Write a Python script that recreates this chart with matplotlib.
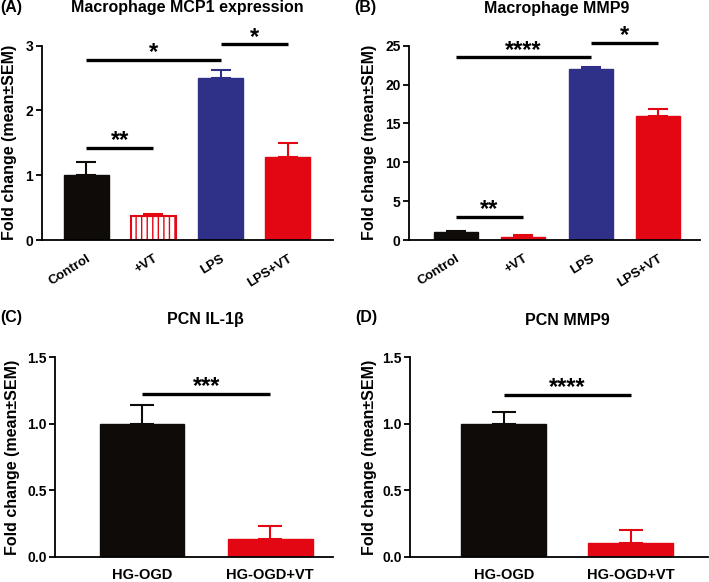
import matplotlib
matplotlib.use('Agg')
import matplotlib.pyplot as plt

plt.rcParams['font.family'] = ['Liberation Sans', 'DejaVu Sans']
plt.rcParams['font.weight'] = 'bold'
plt.rcParams['hatch.linewidth'] = 1.0

BLACK = '#0e0b08'
NAVY = '#2f3188'
RED = '#e30613'

# Données
mac_groups = ['Control', '+VT', 'LPS', 'LPS+VT']
mcp1_mean = [1.0, 0.37, 2.50, 1.28]
mcp1_sem = [0.21, 0.03, 0.12, 0.21]
mmp9_mean = [1.0, 0.40, 22.0, 16.0]
mmp9_sem = [0.20, 0.25, 0.20, 0.80]

pcn_groups = ['HG-OGD', 'HG-OGD+VT']
il1b_mean = [1.0, 0.13]
il1b_sem = [0.14, 0.10]
pcn_mmp9_mean = [1.0, 0.10]
pcn_mmp9_sem = [0.09, 0.10]

# (x1, x2, y, label)
mcp1_sig = [(0, 1, 1.42, '**'), (0, 2, 2.78, '*'), (2, 3, 3.02, '*')]
mmp9_sig = [(0, 1, 3.0, '**'), (0, 2, 23.5, '****'), (2, 3, 25.4, '*')]
il1b_sig = [(0, 1, 1.225, '***')]
pcn_mmp9_sig = [(0, 1, 1.22, '****')]

W, H = 709, 582
fig = plt.figure(figsize=(W / 100, H / 100), dpi=100)


def make_ax(l, r, b, t):
    return fig.add_axes([l / W, 1 - b / H, (r - l) / W, (b - t) / H])


def style(ax, ymax, step, ylab_x):
    ax.spines['top'].set_visible(False)
    ax.spines['right'].set_visible(False)
    ax.spines['left'].set_linewidth(1.3)
    ax.spines['bottom'].set_linewidth(1.3)
    ax.set_ylim(0, ymax)
    ax.set_yticks([i * step for i in range(int(round(ymax / step)) + 1)])
    ax.tick_params(axis='y', length=4, width=1.3, labelsize=10, pad=2)
    ax.tick_params(axis='x', length=0)
    ax.set_ylabel('Fold change (mean±SEM)', fontsize=11.5, fontweight='bold')
    ax.yaxis.set_label_coords(ylab_x, 0.5)


def sig(ax, items):
    for x1, x2, y, lab in items:
        ax.plot([x1, x2], [y, y], color='black', lw=2.4, clip_on=False, solid_capstyle='butt')
        ax.annotate(lab, ((x1 + x2) / 2, y), xytext=(0, 0.5), textcoords='offset points',
                    ha='center', va='baseline', fontsize=17, fontweight='bold',
                    annotation_clip=False)


def bars(ax, n, means, sems, colors, width, capsize, hatch_idx=None):
    for i in range(n):
        if i == hatch_idx:
            ax.bar(i, means[i], width, color='white', edgecolor=colors[i], hatch='|||', linewidth=1.5)
        else:
            ax.bar(i, means[i], width, color=colors[i], edgecolor=colors[i], linewidth=1)
        ax.errorbar(i, means[i], yerr=[[0], [sems[i]]], color=colors[i], capsize=capsize,
                    elinewidth=1.5, capthick=1.5)


mac_colors = [BLACK, RED, NAVY, RED]
pcn_colors = [BLACK, RED]

# (A)
axA = make_ax(41.5, 333, 240, 45.7)
bars(axA, 4, mcp1_mean, mcp1_sem, mac_colors, 0.67, 7, hatch_idx=1)
axA.set_xlim(-0.664, 3.67)
style(axA, 3, 1, -0.084)
axA.set_xticks(range(4))
axA.set_xticklabels(mac_groups, rotation=32, ha='right', rotation_mode='anchor', fontsize=9.5)
axA.tick_params(axis='x', pad=9)
sig(axA, mcp1_sig)

# (B)
axB = make_ax(409, 700, 240, 45.7)
bars(axB, 4, mmp9_mean, mmp9_sem, mac_colors, 0.65, 7)
axB.set_xlim(-0.69, 3.62)
style(axB, 25, 5, -0.11)
axB.set_xticks(range(4))
axB.set_xticklabels(mac_groups, rotation=32, ha='right', rotation_mode='anchor', fontsize=9.5)
axB.tick_params(axis='x', pad=9)
sig(axB, mmp9_sig)

# (C)
axC = make_ax(55, 333, 556.7, 357.3)
bars(axC, 2, il1b_mean, il1b_sem, pcn_colors, 0.66, 8.5)
axC.set_xlim(-0.68, 1.49)
style(axC, 1.5, 0.5, -0.126)
axC.set_xticks(range(2))
axC.set_xticklabels(pcn_groups, fontsize=10.5)
axC.tick_params(axis='x', pad=8)
sig(axC, il1b_sig)

# (D)
axD = make_ax(410, 708, 556.7, 357.3)
bars(axD, 2, pcn_mmp9_mean, pcn_mmp9_sem, pcn_colors, 0.67, 8.5)
axD.set_xlim(-0.74, 1.61)
style(axD, 1.5, 0.5, -0.111)
axD.set_xticks(range(2))
axD.set_xticklabels(pcn_groups, fontsize=10.5)
axD.tick_params(axis='x', pad=8)
sig(axD, pcn_mmp9_sig)

# Titres et lettres des panneaux
titles = [('Macrophage MCP1 expression', 187, 12), ('Macrophage MMP9', 557, 13),
          ('PCN IL-1β', 205, 324), ('PCN MMP9', 567, 325)]
for t, x, y in titles:
    fig.text(x / W, 1 - y / H, t, fontsize=11.5, fontweight='bold', ha='center', va='baseline')

for lab, x, y in [('(A)', 0, 12), ('(B)', 354, 12), ('(C)', 0, 322), ('(D)', 355, 322)]:
    fig.text(x / W, 1 - y / H, lab, fontsize=11.5, fontweight='bold', ha='left', va='baseline')

fig.savefig('out.png', dpi=100)
